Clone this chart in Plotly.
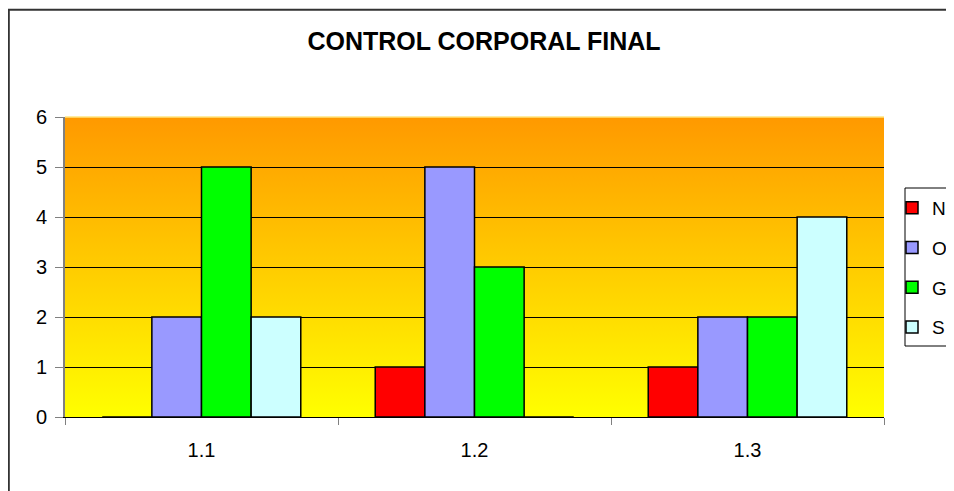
import base64
import plotly.graph_objects as go

categories = ["1.1", "1.2", "1.3"]
series_names = ["N", "O", "G", "S"]
values_N = [0, 1, 1]
values_O = [2, 5, 2]
values_G = [5, 3, 2]
values_S = [2, 0, 4]
series_values = [values_N, values_O, values_G, values_S]
series_colors = ["#FF0000", "#9999FF", "#00FF00", "#CCFFFF"]
y_ticks = [0, 1, 2, 3, 4, 5, 6]
title_text = "CONTROL CORPORAL FINAL"

# the page body has an 8px margin; figure is sized to fit the 954x491 window
OFF = 8
W, H = 954 - OFF, 491 - OFF
PL, PR, PT, PB = 65, 884, 117, 417          # plot area in window pixels
L, R, T, B = PL - OFF, W - (PR - OFF), PT - OFF, H - (PB - OFF)
pw, ph = W - L - R, H - T - B

def px_x(x):
    return (x - OFF - L) / pw

def px_y(y):
    return (H - B - (y - OFF)) / ph

FONT = "Arial, Liberation Sans, sans-serif"

fig = go.Figure()
for name, vals, col in zip(series_names, series_values, series_colors):
    fig.add_trace(go.Bar(
        x=categories, y=vals, name=name, legendgroup=name,
        marker=dict(color=col, line=dict(color="black", width=1.5)),
    ))

svg = ('<svg xmlns="http://www.w3.org/2000/svg" width="10" height="100" viewBox="0 0 10 100" '
       'preserveAspectRatio="none"><defs><linearGradient id="g" x1="0" y1="0" x2="0" y2="1">'
       '<stop offset="0" stop-color="#FF9900"/><stop offset="1" stop-color="#FFFF00"/>'
       '</linearGradient></defs><rect width="10" height="100" fill="url(#g)"/></svg>')
src = "data:image/svg+xml;base64," + base64.b64encode(svg.encode()).decode()

fig.update_layout(
    width=W, height=H,
    margin=dict(l=L, r=R, t=T, b=B, autoexpand=False),
    paper_bgcolor="white", plot_bgcolor="rgba(0,0,0,0)",
    font=dict(family=FONT, size=20, color="black"),
    title=dict(text="<b>" + title_text + "</b>", x=(484 - OFF) / W, xanchor="center",
               y=1 - (41 - OFF) / H, yanchor="middle", font=dict(size=25, family=FONT)),
    barmode="group", bargap=1.5 / 5.5, bargroupgap=0,
    showlegend=True,
    legend=dict(x=px_x(892), xanchor="left", y=px_y(189), yanchor="top",
                bgcolor="rgba(0,0,0,0)", borderwidth=0, tracegroupgap=12,
                font=dict(size=19, family=FONT)),
    images=[dict(source=src, xref="paper", yref="paper", x=0, y=1, sizex=1, sizey=1,
                 xanchor="left", yanchor="top", sizing="stretch", layer="below")],
    shapes=[
        dict(type="rect", xref="paper", yref="paper", x0=px_x(905), x1=px_x(1100),
             y0=px_y(346), y1=px_y(188), line=dict(color="black", width=1),
             fillcolor="white", layer="above"),
        dict(type="rect", xref="paper", yref="paper", x0=px_x(8.8), x1=px_x(1100),
             y0=px_y(700), y1=px_y(9.8), line=dict(color="#333333", width=2),
             fillcolor="rgba(0,0,0,0)", layer="above"),
        dict(type="line", xref="paper", yref="paper", x0=0, x1=1, y0=1, y1=1,
             line=dict(color="#FFE680", width=1.5), layer="above"),
    ],
)
fig.update_xaxes(type="category", tickson="boundaries", ticks="outside", ticklen=7,
                 tickcolor="#808080", showline=True, linecolor="black", linewidth=1,
                 showgrid=False, ticklabelstandoff=15, tickfont=dict(size=20, family=FONT))
fig.update_yaxes(range=[0, 6], tickvals=y_ticks, ticks="outside", ticklen=8,
                 tickcolor="#808080", showline=True, linecolor="#808080", linewidth=2,
                 showgrid=True, gridcolor="black", gridwidth=1, zeroline=False,
                 ticklabelstandoff=4, tickfont=dict(size=20, family=FONT))

fig.write_html("out.html")
